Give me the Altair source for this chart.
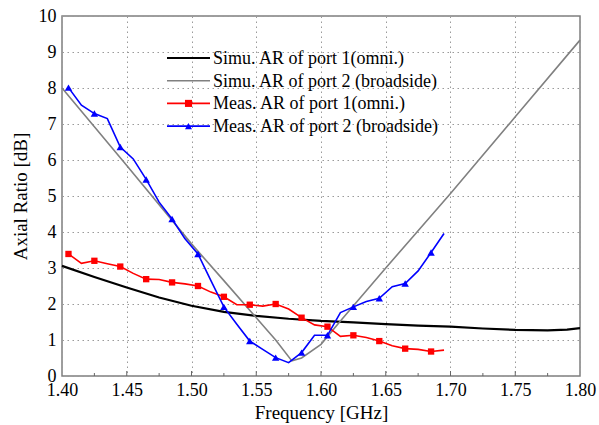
import altair as alt
import pandas as pd

# ---------------- data ----------------
sim1_f = [1.40, 1.425, 1.45, 1.475, 1.50, 1.525, 1.55, 1.575, 1.60, 1.625, 1.65, 1.675,
          1.70, 1.725, 1.75, 1.775, 1.79, 1.80]
sim1_ar = [3.06, 2.75, 2.46, 2.18, 1.95, 1.78, 1.67, 1.59, 1.53, 1.49, 1.44, 1.40,
           1.37, 1.32, 1.28, 1.27, 1.29, 1.33]

sim2_f = [1.40, 1.45, 1.50, 1.525, 1.55, 1.565, 1.5775, 1.585, 1.60, 1.615, 1.65, 1.70, 1.75, 1.80]
sim2_ar = [8.00, 5.85, 3.67, 2.65, 1.62, 1.00, 0.42, 0.50, 0.88, 1.53, 3.00, 5.07, 7.20, 9.33]

meas_f = [1.405, 1.415, 1.425, 1.435, 1.445, 1.455, 1.465, 1.475, 1.485, 1.495,
          1.505, 1.515, 1.525, 1.535, 1.545, 1.555, 1.565, 1.575, 1.585, 1.595,
          1.605, 1.615, 1.625, 1.635, 1.645, 1.655, 1.665, 1.675, 1.685, 1.695]
meas1_ar = [3.39, 3.13, 3.20, 3.12, 3.04, 2.85, 2.69, 2.68, 2.60, 2.56,
            2.50, 2.33, 2.20, 1.98, 1.98, 1.94, 2.00, 1.86, 1.62, 1.42,
            1.37, 1.10, 1.13, 1.07, 0.97, 0.84, 0.76, 0.74, 0.68, 0.72]
meas2_ar = [8.01, 7.52, 7.29, 7.15, 6.36, 6.03, 5.46, 4.83, 4.36, 3.81,
            3.39, 2.65, 1.92, 1.44, 0.97, 0.74, 0.51, 0.37, 0.65, 1.13,
            1.13, 1.76, 1.92, 2.07, 2.16, 2.48, 2.57, 2.92, 3.43, 3.96]

series_names = ["Simu. AR of port 1(omni.)", "Simu. AR of port 2 (broadside)",
                "Meas. AR of port 1(omni.)", "Meas. AR of port 2 (broadside)"]
series_colors = ["#000000", "#808080", "#ff0000", "#0000ff"]
series_widths = [2.2, 1.6, 1.6, 1.6]
series_shapes = ["", "", "square", "triangle-up"]

x_ticks = [1.40, 1.45, 1.50, 1.55, 1.60, 1.65, 1.70, 1.75, 1.80]
x_minor = [1.425, 1.475, 1.525, 1.575, 1.625, 1.675, 1.725, 1.775]
y_ticks = [0, 1, 2, 3, 4, 5, 6, 7, 8, 9, 10]

FONT = "Liberation Serif, Times New Roman, serif"
W, H = 518, 360

# ---------------- tables ----------------
df_s1 = pd.DataFrame({"f": sim1_f, "ar": sim1_ar})
df_s2 = pd.DataFrame({"f": sim2_f, "ar": sim2_ar})
df_m1 = pd.DataFrame({"f": meas_f, "ar": meas1_ar, "i": range(len(meas_f))})
df_m2 = pd.DataFrame({"f": meas_f, "ar": meas2_ar, "i": range(len(meas_f))})

xaxis = alt.Axis(values=x_ticks, format=".2f", title="Frequency [GHz]",
                 grid=True, ticks=False, domain=False, labelPadding=5,
                 labelFlush=False)
yaxis = alt.Axis(values=y_ticks, title="Axial Ratio [dB]", grid=True,
                 ticks=False, domain=False, labelPadding=6)
xs = alt.Scale(domain=[1.40, 1.80], nice=False, zero=False)
ys = alt.Scale(domain=[0, 10], nice=False)


def line(df, color, width):
    return alt.Chart(df).mark_line(color=color, strokeWidth=width).encode(
        x=alt.X("f:Q", scale=xs, axis=xaxis),
        y=alt.Y("ar:Q", scale=ys, axis=yaxis),
    )


def markers(df, color, shape, size):
    return alt.Chart(df).transform_filter("datum.i % 2 == 0").mark_point(
        shape=shape, filled=True, color=color, size=size, opacity=1
    ).encode(
        x=alt.X("f:Q", scale=xs, axis=xaxis),
        y=alt.Y("ar:Q", scale=ys, axis=yaxis),
    )


# inner tick marks on the bottom axis
df_major = pd.DataFrame({"t": x_ticks[1:-1]})
df_minor = pd.DataFrame({"t": x_minor})
ticks_major = alt.Chart(df_major).mark_rule(color="#666666", strokeWidth=1).encode(
    x=alt.X("t:Q", scale=xs, axis=xaxis),
    y=alt.value(H), y2=alt.value(H - 5),
)
ticks_minor = alt.Chart(df_minor).mark_rule(color="#666666", strokeWidth=1).encode(
    x=alt.X("t:Q", scale=xs, axis=xaxis),
    y=alt.value(H), y2=alt.value(H - 3),
)

# legend
row_gap = 22.7
df_leg = pd.DataFrame({
    "label": series_names,
    "color": series_colors,
    "w": series_widths,
    "shape": series_shapes,
})
df_leg["ly"] = [42 + k * row_gap for k in range(len(series_names))]
leg_lines = alt.Chart(df_leg).mark_rule().encode(
    x=alt.value(105), x2=alt.value(148),
    y=alt.Y("ly:Q", scale=None),
    color=alt.Color("color:N", scale=None),
    strokeWidth=alt.StrokeWidth("w:Q", scale=None),
)
leg_marks = alt.Chart(df_leg).transform_filter("datum.shape != ''").mark_point(
    filled=True, size=50, opacity=1
).encode(
    x=alt.value(126.5),
    y=alt.Y("ly:Q", scale=None),
    color=alt.Color("color:N", scale=None),
    shape=alt.Shape("shape:N", scale=None),
)
leg_text = alt.Chart(df_leg).mark_text(
    align="left", baseline="middle", font=FONT, fontSize=18, color="#000000", dy=1
).encode(
    x=alt.value(151),
    y=alt.Y("ly:Q", scale=None),
    text="label:N",
)

chart = alt.layer(
    ticks_major, ticks_minor,
    line(df_s1, series_colors[0], series_widths[0]),
    line(df_s2, series_colors[1], series_widths[1]),
    line(df_m1, series_colors[2], series_widths[2]),
    markers(df_m1, series_colors[2], "square", 40),
    line(df_m2, series_colors[3], series_widths[3]),
    markers(df_m2, series_colors[3], "triangle-up", 55),
    leg_lines, leg_marks, leg_text,
).properties(
    width=W, height=H,
    autosize=alt.AutoSizeParams(type="none"),
    padding={"left": 62, "top": 16, "right": 19, "bottom": 49},
    background="#ffffff",
).configure_view(
    stroke="#7f7f7f", strokeWidth=1.5
).configure_axis(
    labelFont=FONT, titleFont=FONT, labelFontSize=18, titleFontSize=19,
    labelColor="#000000", titleColor="#000000", titleFontWeight="normal",
    gridColor="#9a9a9a", gridDash=[1.5, 3.5], gridWidth=1,
).configure_axisX(
    titlePadding=4,
).configure_axisY(
    titlePadding=8,
)

chart.save("out.html", embed_options={"renderer": "svg", "actions": False})
